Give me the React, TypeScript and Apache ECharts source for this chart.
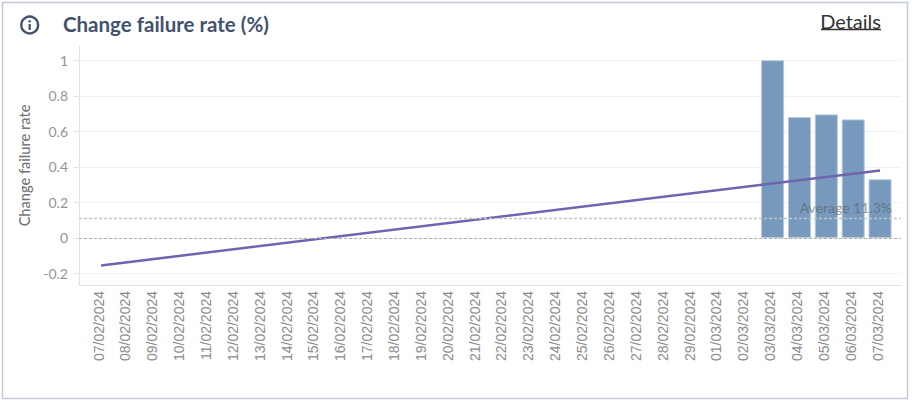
import React, { useEffect, useRef } from "react";
import * as echarts from "echarts";

const categories = ["07/02/2024","08/02/2024","09/02/2024","10/02/2024","11/02/2024","12/02/2024","13/02/2024","14/02/2024","15/02/2024","16/02/2024","17/02/2024","18/02/2024","19/02/2024","20/02/2024","21/02/2024","22/02/2024","23/02/2024","24/02/2024","25/02/2024","26/02/2024","27/02/2024","28/02/2024","29/02/2024","01/03/2024","02/03/2024","03/03/2024","04/03/2024","05/03/2024","06/03/2024","07/03/2024"];
const barIndices = [25, 26, 27, 28, 29];
const barValues = [1, 0.68, 0.695, 0.667, 0.33];
const trendIndices = [0, 29];
const trendValues = [-0.155, 0.38];
const averageValue = 0.11;
const averageLabel = "Average 11.3%";
const yTicks = [-0.2, 0, 0.2, 0.4, 0.6, 0.8, 1];
const titleText = "Change failure rate (%)";
const detailsText = "Details";
const yAxisName = "Change failure rate";

const FONT = "Lato, 'Open Sans', sans-serif";
const INK = "#42526e";

export default function App() {
  const ref = useRef<HTMLDivElement>(null);
  useEffect(() => {
    const chart = echarts.init(ref.current!, undefined, { renderer: "svg" });
    const xTickValues = categories.map((_, i) => i);
    chart.setOption({
      animation: false,
      backgroundColor: "#ffffff",
      textStyle: { fontFamily: FONT },
      grid: { left: 79, right: 11, top: 46, bottom: 117, containLabel: false },
      xAxis: {
        type: "value",
        min: -0.82,
        max: 29.78,
        axisLine: { show: true, onZero: false, lineStyle: { color: "#dfe2e6", width: 1 } },
        axisTick: { show: false, customValues: xTickValues },
        splitLine: { show: false },
        axisLabel: {
          customValues: xTickValues,
          rotate: 90,
          margin: 6,
          verticalAlign: "bottom",
          lineHeight: 5,
          color: "#8c8c8c",
          fontSize: 14,
          fontFamily: "'Liberation Sans', Arial, sans-serif",
          formatter: (v: number) => categories[Math.round(v)] ?? "",
        },
      },
      yAxis: {
        type: "value",
        min: -0.265,
        max: 1.08,
        name: yAxisName,
        nameLocation: "middle",
        nameGap: 46,
        nameTextStyle: { color: "#757575", fontSize: 14.6, fontWeight: 500, fontFamily: FONT },
        axisLine: { show: true, onZero: false, lineStyle: { color: "#dfe2e6", width: 1 } },
        axisTick: { show: true, length: 5, customValues: yTicks, lineStyle: { color: "#dfe2e6" } },
        splitLine: { show: true, lineStyle: { color: "#f1f2f4", width: 1 } },
        axisLabel: {
          customValues: yTicks,
          margin: 11,
          color: "#949494",
          fontSize: 14,
          fontFamily: FONT,
        },
      },
      series: [
        {
          type: "bar",
          barWidth: 23,
          data: barIndices.map((x, i) => [x, barValues[i]]),
          itemStyle: { color: "#7799bd", borderColor: "#b4c8dc", borderWidth: 1 },
          silent: true,
          markLine: {
            silent: true,
            symbol: "none",
            animation: false,
            label: { show: false },
            data: [
              { yAxis: averageValue, lineStyle: { color: "#c4c4c4", type: [3, 2], width: 1.4 } },
              { yAxis: 0, lineStyle: { color: "#b0b0b0", type: [3, 2], width: 1 } },
            ],
          },
          z: 2,
        },
        {
          type: "line",
          data: trendIndices.map((x, i) => [x, trendValues[i]]),
          showSymbol: false,
          lineStyle: { color: "#6f64b0", width: 2.5 },
          silent: true,
          z: 3,
        },
      ],
      graphic: [
        { type: "rect", shape: { x: 2.5, y: 2.5, width: 905, height: 396 }, style: { fill: "none", stroke: "#c3ccd8", lineWidth: 1.5 }, z: 10 },
        { type: "circle", shape: { cx: 29.7, cy: 25, r: 8.4 }, style: { fill: "none", stroke: INK, lineWidth: 2.4 }, z: 10 },
        { type: "circle", shape: { cx: 29.7, cy: 21.3, r: 1.3 }, style: { fill: INK }, z: 10 },
        { type: "rect", shape: { x: 28.6, y: 24, width: 2.2, height: 6 }, style: { fill: INK }, z: 10 },
        { type: "text", x: 63, y: 24, style: { text: titleText, fill: INK, font: `bold 20.5px ${FONT}`, align: "left", verticalAlign: "middle" }, z: 10 },
        { type: "text", x: 881, y: 21, style: { text: detailsText, fill: "#333333", font: `400 20px ${FONT}`, align: "right", verticalAlign: "middle" }, z: 10 },
        { type: "line", shape: { x1: 821, y1: 29.5, x2: 881, y2: 29.5 }, style: { stroke: "#333333", lineWidth: 1.4 }, z: 10 },
        { type: "text", x: 892, y: 207, style: { text: averageLabel, fill: "rgba(90,90,90,0.6)", font: `400 14px ${FONT}`, align: "right", verticalAlign: "middle" }, z: 10 },
      ],
    });
    return () => chart.dispose();
  }, []);
  return <div ref={ref} style={{ position: "absolute", left: 0, top: 0, width: 912, height: 402 }} />;
}
